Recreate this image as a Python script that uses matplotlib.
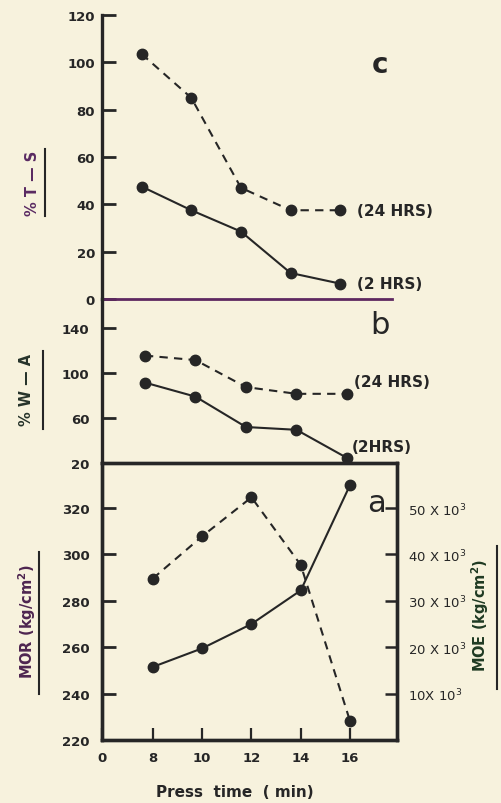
import matplotlib
matplotlib.use("Agg")
import matplotlib.pyplot as plt
from matplotlib.lines import Line2D

# ---------------- data ----------------
press_time = [8, 10, 12, 14, 16]                 # min
ts_24h = [103.5, 85.0, 47.0, 37.5, 37.5]         # % T-S, 24 hrs
ts_2h = [47.5, 37.5, 28.5, 11.0, 6.5]            # % T-S, 2 hrs
wa_24h = [115.5, 111.5, 87.5, 81.5, 81.5]        # % W-A, 24 hrs
wa_2h = [91.5, 79.0, 52.0, 49.5, 24.5]           # % W-A, 2 hrs
mor = [251.5, 259.5, 270.0, 284.5, 330.0]        # MOR kg/cm2 (solid)
moe = [34800, 43900, 52300, 37700, 4000]         # MOE kg/cm2 (dashed)

ts_ticks = [0, 20, 40, 60, 80, 100, 120]
wa_ticks = [20, 60, 100, 140]
mor_ticks = [220, 240, 260, 280, 300, 320]
moe_ticks = [10000, 20000, 30000, 40000, 50000]
moe_labels = [r"10X 10$^3$", r"20 X 10$^3$", r"30 X 10$^3$", r"40 X 10$^3$", r"50 X 10$^3$"]
x_tick_pos = [8, 10, 12, 14, 16]
x_tick_labels = ["8", "10", "12", "14", "16"]

# ---------------- style ----------------
BG = "#f7f2dd"
INK = "#262626"
PURPLE = "#5e2860"
plt.rcParams["font.family"] = ["DejaVu Sans"]

W, H = 502, 804
fig = plt.figure(figsize=(W / 100, H / 100), dpi=100, facecolor=BG)


def fx(px):
    return px / W


def fy(py):
    return 1 - py / H


def box(x0, y0, x1, y1):
    return [fx(x0), fy(y1), (x1 - x0) / W, (y1 - y0) / H]


ax_c = fig.add_axes(box(102, 16, 392, 300))
ax_b = fig.add_axes(box(102, 300, 397, 464))
ax_a = fig.add_axes(box(102, 464, 397, 741))
ax_a2 = ax_a.twinx()

for ax in (ax_c, ax_b, ax_a, ax_a2):
    ax.set_facecolor("none")

line_kw = dict(color=INK, lw=1.5, marker="o", ms=7.5, mfc=INK, mec=INK)
dash = (0, (4, 3))


def bold_ticks(ax, axis="y"):
    labs = ax.get_yticklabels() if axis == "y" else ax.get_xticklabels()
    for lab in labs:
        lab.set_fontweight("bold")


# ---- panel c ----
ax_c.plot(press_time, ts_24h, ls=dash, **line_kw)
ax_c.plot(press_time, ts_2h, ls="-", **line_kw)
ax_c.set_ylim(0, 120)
ax_c.set_xlim(6.40, 18.09)
for s in ("top", "right"):
    ax_c.spines[s].set_visible(False)
ax_c.spines["left"].set_linewidth(2.4)
ax_c.spines["left"].set_color(INK)
ax_c.spines["bottom"].set_linewidth(2.0)
ax_c.spines["bottom"].set_color(PURPLE)
ax_c.set_xticks([])
ax_c.set_yticks(ts_ticks)
ax_c.tick_params(axis="y", direction="in", length=10, width=2, colors=INK,
                 labelsize=9.5, pad=5)
bold_ticks(ax_c)

# ---- panel b ----
ax_b.plot(press_time, wa_24h, ls=dash, **line_kw)
ax_b.plot(press_time, wa_2h, ls="-", **line_kw)
ax_b.set_ylim(20, 165.8)
ax_b.set_xlim(6.30, 17.98)
for s in ("top", "right", "bottom"):
    ax_b.spines[s].set_visible(False)
ax_b.spines["left"].set_linewidth(2.4)
ax_b.spines["left"].set_color(INK)
ax_b.set_xticks([])
ax_b.set_yticks(wa_ticks)
ax_b.tick_params(axis="y", direction="in", length=10, width=2, colors=INK,
                 labelsize=9.5, pad=9)
bold_ticks(ax_b)

# ---- panel a ----
ax_a.plot(press_time, mor, ls="-", clip_on=False, **line_kw)
ax_a.set_ylim(220, 339.4)
ax_a.set_xlim(5.94, 17.90)
ax_a.set_yticks(mor_ticks)
ax_a.set_xticks([5.94] + x_tick_pos)
ax_a.set_xticklabels(["0"] + x_tick_labels)
ax_a.tick_params(axis="y", direction="in", length=10, width=2, colors=INK,
                 labelsize=9.5, pad=9)
ax_a.tick_params(axis="x", direction="in", length=9, width=1.6, colors=INK,
                 labelsize=9.5, pad=8)
bold_ticks(ax_a, "y")
bold_ticks(ax_a, "x")
for s in ax_a.spines.values():
    s.set_linewidth(2.4)
    s.set_color(INK)

ax_a2.plot(press_time, moe, ls=dash, clip_on=False, **line_kw)
ax_a2.set_ylim(0, 59700)
ax_a2.set_yticks(moe_ticks)
ax_a2.set_yticklabels(moe_labels)
ax_a2.tick_params(axis="y", direction="in", length=9, width=1.8, colors=INK,
                  labelsize=9.5, pad=8)
for s in ax_a2.spines.values():
    s.set_linewidth(2.4)
    s.set_color(INK)

# ---- series labels ----
lab_kw = dict(fontsize=11, fontweight="bold", color=INK, va="center", ha="left",
              textcoords="offset pixels")
ax_c.annotate("(24 HRS)", (press_time[-1], ts_24h[-1]), xytext=(17, 0), **lab_kw)
ax_c.annotate("(2 HRS)", (press_time[-1], ts_2h[-1]), xytext=(17, 0), **lab_kw)
ax_b.annotate("(24 HRS)", (press_time[-1], wa_24h[-1]), xytext=(7, 12), **lab_kw)
ax_b.annotate("(2HRS)", (press_time[-1], wa_2h[-1]), xytext=(5, 11),
              annotation_clip=False, **lab_kw)

# ---- panel letters ----
fig.text(fx(380), fy(65), "c", fontsize=20, fontweight="bold", color=INK,
         ha="center", va="center")
fig.text(fx(380), fy(326), "b", fontsize=22, color=INK, ha="center", va="center")
fig.text(fx(377), fy(504), "a", fontsize=22, color=INK, ha="center", va="center")

# ---- axis labels with bars ----
lbl_kw = dict(rotation=90, ha="center", va="center", fontsize=10.5,
              fontweight="bold")
fig.text(fx(33), fy(183), "% T — S", color="#5a2a62", **lbl_kw)
fig.text(fx(27), fy(390), "% W — A", color="#26332a", **lbl_kw)
fig.text(fx(27), fy(622), "MOR (kg/cm$^\\mathbf{2}$)", color="#4e2550", **lbl_kw)
fig.text(fx(480), fy(615), "MOE (kg/cm$^\\mathbf{2}$)", color="#1f3a22", **lbl_kw)

for x, y0, y1 in [(45, 150, 217), (43, 352, 430), (39, 553, 695), (497, 547, 690)]:
    fig.add_artist(Line2D([fx(x), fx(x)], [fy(y0), fy(y1)],
                          transform=fig.transFigure, color=INK, lw=1.5))

fig.text(fx(235), fy(793), "Press  time  ( min)", fontsize=11, fontweight="bold",
         color=INK, ha="center", va="center")

fig.savefig("out.png", dpi=100, facecolor=BG)
